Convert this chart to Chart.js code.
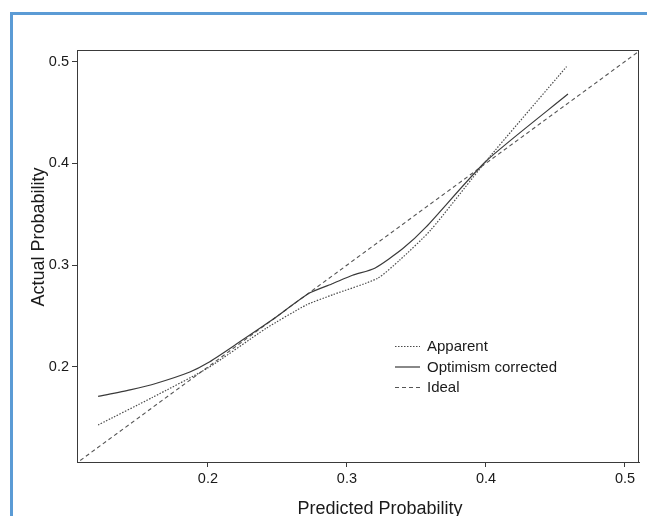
<!DOCTYPE html>
<html>
<head>
<meta charset="utf-8">
<script src="https://cdn.jsdelivr.net/npm/chart.js@4"></script>
<style>
  html, body { margin: 0; padding: 0; background: #fff; }
  #wrap { position: relative; width: 647px; height: 516px; overflow: hidden; }
  #frame { position: absolute; left: 10px; top: 12px; right: -5px; bottom: -5px;
           border-left: 3px solid #5b9bd5; border-top: 3px solid #5b9bd5; }
  canvas { position: absolute; left: 0; top: 0; }
</style>
</head>
<body>
<div id="wrap">
  <canvas id="calib" width="647" height="516"></canvas>
  <div id="frame"></div>
</div>
<script>
// values
const apparentX = [0.121, 0.16, 0.2, 0.242, 0.271, 0.29, 0.322, 0.338, 0.36, 0.40, 0.458];
const apparentY = [0.143, 0.170, 0.199, 0.238, 0.261, 0.271, 0.287, 0.305, 0.334, 0.402, 0.495];
const correctedX = [0.121, 0.144, 0.163, 0.187, 0.2, 0.22, 0.246, 0.273, 0.29, 0.304, 0.32, 0.34, 0.357, 0.40, 0.459];
const correctedY = [0.171, 0.1775, 0.184, 0.195, 0.204, 0.222, 0.246, 0.2725, 0.282, 0.290, 0.297, 0.316, 0.3375, 0.402, 0.468];
const idealX = [0.1, 0.52];
const idealY = [0.1, 0.52];
const seriesNames = ['Apparent', 'Optimism corrected', 'Ideal'];
const tickValues = [0.2, 0.3, 0.4, 0.5];

const pts = (xs, ys) => xs.map((x, i) => ({ x: x, y: ys[i] }));
const font = '"Liberation Sans", Arial, sans-serif';
const ink = '#3a3a3a';

const boxAndText = {
  id: 'boxAndText',
  afterDraw(chart) {
    const { ctx, chartArea: a } = chart;
    ctx.save();
    ctx.strokeStyle = ink;
    ctx.lineWidth = 1;
    ctx.strokeRect(a.left + 0.5, a.top + 0.5, a.right - a.left - 1, a.bottom - a.top);

    // legend inside the plot
    const lx = a.left + 318, ly = 346;
    chart.data.datasets.forEach((ds, i) => {
      const y = ly + i * 20.5;
      ctx.beginPath();
      ctx.setLineDash(ds.borderDash || []);
      ctx.strokeStyle = ds.borderColor;
      ctx.lineWidth = ds.borderWidth;
      ctx.moveTo(lx, y + 0.5);
      ctx.lineTo(lx + 25, y + 0.5);
      ctx.stroke();
      ctx.setLineDash([]);
      ctx.fillStyle = '#1a1a1a';
      ctx.font = '15px ' + font;
      ctx.textBaseline = 'middle';
      ctx.textAlign = 'left';
      ctx.fillText(ds.label, lx + 32, y + 1);
    });

    // axis titles
    ctx.fillStyle = '#1a1a1a';
    ctx.font = '18px ' + font;
    ctx.textAlign = 'center';
    ctx.textBaseline = 'alphabetic';
    ctx.fillText('Predicted Probability', 380, 514);
    ctx.translate(44, 237);
    ctx.rotate(-Math.PI / 2);
    ctx.fillText('Actual Probability', 0, 0);
    ctx.restore();
  }
};

const axis = (min, max) => ({
  type: 'linear',
  min: min,
  max: max,
  afterBuildTicks: s => { s.ticks = tickValues.map(v => ({ value: v })); },
  grid: { drawOnChartArea: false, drawTicks: true, tickLength: 5, color: ink, lineWidth: 1 },
  border: { display: true, color: ink, width: 1 },
  ticks: { color: '#1a1a1a', font: { family: font, size: 14.5 }, padding: 3,
           callback: v => v.toFixed(1) }
});

new Chart(document.getElementById('calib'), {
  type: 'scatter',
  data: {
    datasets: [
      { label: seriesNames[0], data: pts(apparentX, apparentY), borderColor: '#4a4a4a',
        borderWidth: 1.2, borderDash: [1.5, 1.5], tension: 0.2 },
      { label: seriesNames[1], data: pts(correctedX, correctedY), borderColor: '#3a3a3a',
        borderWidth: 1.2, tension: 0.2 },
      { label: seriesNames[2], data: pts(idealX, idealY), borderColor: '#555',
        borderWidth: 1.1, borderDash: [4, 3] }
    ].map(d => Object.assign({ showLine: true, pointRadius: 0, fill: false }, d))
  },
  options: {
    responsive: false,
    animation: false,
    layout: { padding: { left: 0, top: 50, right: 8, bottom: 0 } },
    plugins: { legend: { display: false }, tooltip: { enabled: false } },
    scales: {
      x: Object.assign(axis(0.1058, 0.5101), { afterFit: s => { s.height = 54; } }),
      y: Object.assign(axis(0.1066, 0.5113), { afterFit: s => { s.width = 77; } })
    }
  },
  plugins: [boxAndText]
});
</script>
</body>
</html>
